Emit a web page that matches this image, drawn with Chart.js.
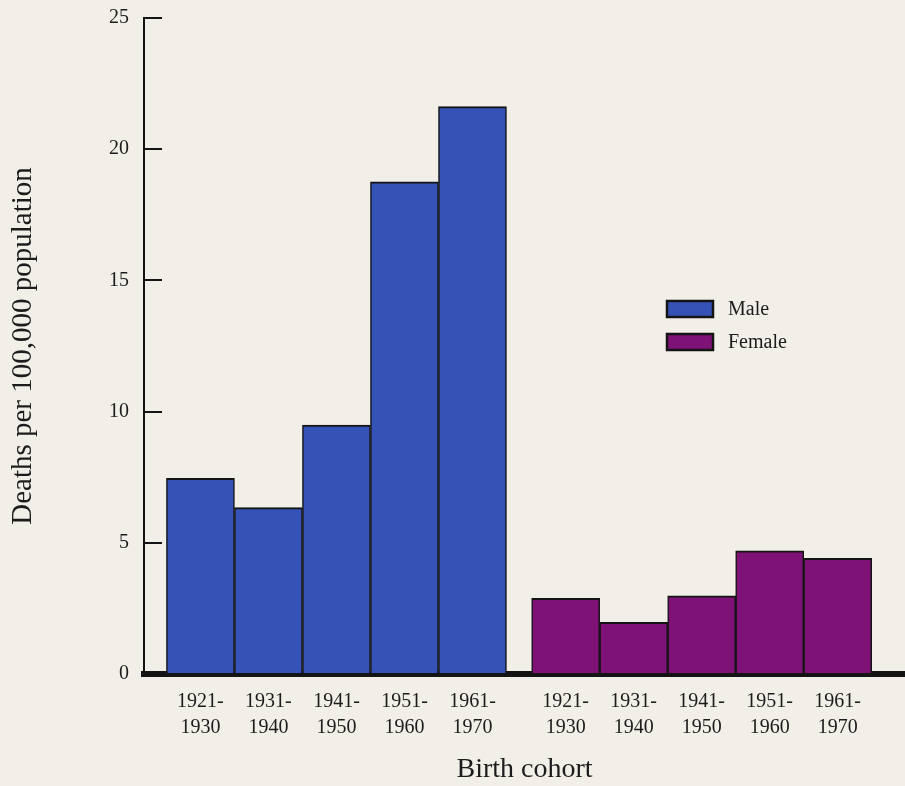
<!DOCTYPE html>
<html>
<head>
<meta charset="utf-8">
<script src="https://cdn.jsdelivr.net/npm/chart.js@4.4.1/dist/chart.umd.min.js"></script>
<style>
  html, body { margin: 0; padding: 0; background: #f2eee8; }
  #wrap { width: 905px; height: 786px; position: relative; }
</style>
</head>
<body>
<div id="wrap"><canvas id="chart"></canvas></div>
<script>
// birth cohorts, same for both groups
const cohorts = ['1921-1930', '1931-1940', '1941-1950', '1951-1960', '1961-1970'];
// deaths per 100,000 population
const maleDeaths = [7.46, 6.34, 9.49, 18.76, 21.62];
const femaleDeaths = [2.88, 1.97, 2.98, 4.69, 4.41];
const yTicks = [0, 5, 10, 15, 20, 25];

const groupGap = 0.37; // space between the male and female blocks, in bar widths
const maleX = cohorts.map((c, i) => i);
const femaleX = cohorts.map((c, i) => i + cohorts.length + groupGap);
const tickX = maleX.concat(femaleX);

const ink = '#141414';
const serif = "'Liberation Serif', 'Times New Roman', serif";

// legend drawn inside the plot, to the right of the tall male bars
const insideLegend = {
    id: 'insideLegend',
    afterDraw(chart) {
        const ctx = chart.ctx;
        ctx.save();
        ctx.font = '20px ' + serif;
        ctx.textBaseline = 'middle';
        chart.data.datasets.forEach((ds, i) => {
            const y = 301 + i * 33;
            ctx.fillStyle = ds.backgroundColor;
            ctx.fillRect(667, y, 46, 16);
            ctx.lineWidth = 2.5;
            ctx.strokeStyle = ink;
            ctx.strokeRect(667, y, 46, 16);
            ctx.fillStyle = '#1c1c1c';
            ctx.fillText(ds.label, 728, y + 9);
        });
        ctx.restore();
    }
};

const ctx = document.getElementById('chart').getContext('2d');
Chart.defaults.font.family = serif;
Chart.defaults.color = '#1c1c1c';

const barStyle = {
    borderColor: ink,
    borderWidth: { top: 2, left: 1.5, right: 1.5, bottom: 0 },
    borderSkipped: 'start',
    barPercentage: 1,
    categoryPercentage: 1,
    grouped: false
};

new Chart(ctx, {
    type: 'bar',
    data: {
        datasets: [
            Object.assign({
                label: 'Male',
                data: maleDeaths.map((v, i) => ({ x: maleX[i], y: v })),
                backgroundColor: '#3553b6'
            }, barStyle),
            Object.assign({
                label: 'Female',
                data: femaleDeaths.map((v, i) => ({ x: femaleX[i], y: v })),
                backgroundColor: '#7f1277'
            }, barStyle)
        ]
    },
    options: {
        responsive: true,
        maintainAspectRatio: false,
        animation: false,
        layout: { padding: { top: 18, right: 0, bottom: 0, left: 0 } },
        plugins: {
            legend: { display: false },
            tooltip: { enabled: false }
        },
        scales: {
            x: {
                type: 'linear',
                min: -0.83,
                max: 10.36,
                offset: false,
                bounds: 'data',
                z: 1,
                grid: { drawOnChartArea: false, drawTicks: false, offset: false },
                border: { display: true, width: 6, color: ink },
                afterBuildTicks: (axis) => {
                    axis.ticks = tickX.map(v => ({ value: v }));
                },
                afterFit: (axis) => {
                    axis.height = 112;
                    axis.paddingLeft = 0;
                    axis.paddingRight = 0;
                },
                ticks: {
                    autoSkip: false,
                    maxRotation: 0,
                    padding: 15,
                    font: { size: 20, lineHeight: 1.3 },
                    color: '#1c1c1c',
                    callback: (value, index) => {
                        const c = cohorts[index % cohorts.length];
                        return [c.slice(0, 5), c.slice(5)];
                    }
                },
                title: {
                    display: true,
                    text: 'Birth cohort',
                    font: { size: 28, lineHeight: 1.2 },
                    color: '#1c1c1c',
                    padding: { top: 0, bottom: 0 }
                }
            },
            y: {
                min: 0,
                max: 25,
                afterBuildTicks: (axis) => {
                    axis.ticks = yTicks.map(v => ({ value: v }));
                },
                afterFit: (axis) => {
                    axis.width = 144;
                    axis.paddingTop = 12;
                    axis.paddingBottom = 12;
                },
                grid: {
                    drawOnChartArea: false,
                    tickLength: -18,
                    lineWidth: 2,
                    color: ink
                },
                border: { display: true, width: 2, color: ink },
                ticks: {
                    padding: 33,
                    font: { size: 20 },
                    color: '#1c1c1c'
                },
                title: {
                    display: true,
                    text: 'Deaths per 100,000 population',
                    font: { size: 29, lineHeight: 1.2 },
                    color: '#1c1c1c',
                    padding: { top: 6, bottom: 0 }
                }
            }
        }
    },
    plugins: [insideLegend]
});
</script>
</body>
</html>
